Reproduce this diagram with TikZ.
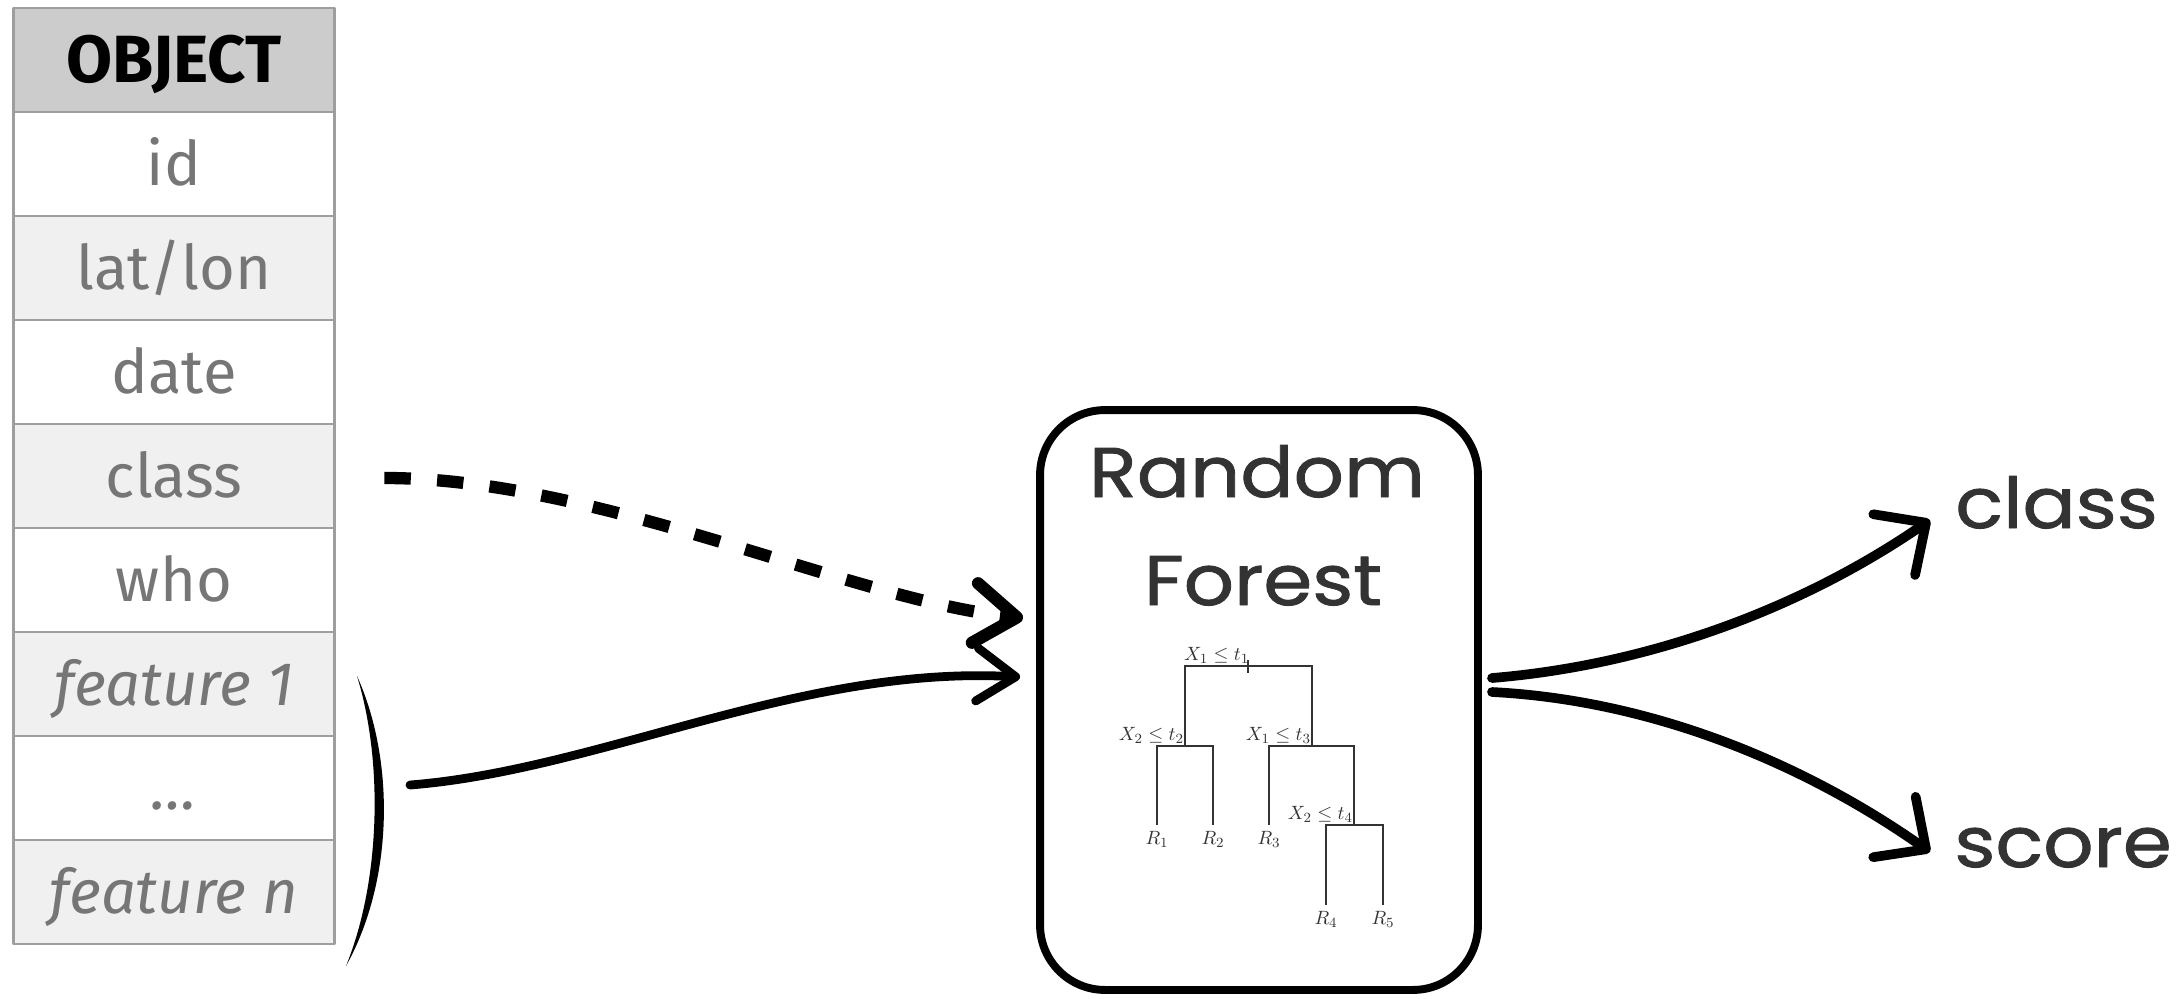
\documentclass[tikz,border=0pt]{standalone}
\usepackage{fontspec}
\usepackage{xcolor}
\usepackage{tikz}
\usetikzlibrary{arrows.meta,calc,positioning}
\newfontfamily\tablefont{Fira Sans}
\newfontfamily\handfont[FakeStretch=1.12, FakeBold=1.2]{Poppins}
\definecolor{cellLine}{HTML}{9E9E9E}
\definecolor{cellText}{HTML}{767676}
\definecolor{headFill}{HTML}{CCCCCC}
\definecolor{rowShade}{HTML}{F0F0F0}
\definecolor{inkDark}{HTML}{333333}

\begin{document}
\begin{tikzpicture}[x=0.02cm, y=-0.02cm, line cap=round, line join=round,
  cell/.style={draw=cellLine, line width=1.5pt, minimum width=6.42cm, minimum height=2.08cm,
    inner sep=0pt, outer sep=0pt, text height=24pt, text depth=0pt, text=cellText,
    font=\tablefont\fontsize{35}{40}\selectfont},
  plainrow/.style={fill=white},
  shadedrow/.style={fill=rowShade},
  featplain/.style={fill=white, font=\tablefont\itshape\fontsize{35}{40}\selectfont},
  featshaded/.style={fill=rowShade, font=\tablefont\itshape\fontsize{35}{40}\selectfont},
  hand/.style={text=inkDark, inner sep=0pt, font=\handfont\fontsize{40}{44}\selectfont},
  split/.style={anchor=south east, inner sep=1.5pt, text=inkDark, font=\fontsize{11}{13}\selectfont},
  leaf/.style={anchor=north, inner sep=1pt, text=inkDark, font=\fontsize{11}{13}\selectfont},
  branch/.style={draw=inkDark, line width=1.1pt, line cap=butt, line join=miter},
  feed/.style={line width=5pt, -{Straight Barb[round, length=22pt, width=30pt]}},
  hint/.style={line width=7pt, line cap=butt, dash pattern=on 15pt off 15pt,
    -{Straight Barb[round, length=24pt, width=34pt]}},
  result/.style={line width=5.5pt, -{Straight Barb[round, length=22pt, width=42pt]}}]

  \useasboundingbox (0,0) rectangle (2184,998);

  % record table
  \node[cell, fill=headFill, text=black, text height=26pt,
    font=\tablefont\bfseries\fontsize{38}{44}\selectfont] (head) at (174,60) {OBJECT};
  \foreach \i/\txt/\sty in {1/id/plainrow, 2/{lat/lon}/shadedrow, 3/date/plainrow,
      4/class/shadedrow, 5/who/plainrow, 6/feature 1/featshaded, 7/{\dots}/featplain,
      8/feature n/featshaded}{%
    \node[cell, \sty] (row\i) at (174,60+104*\i) {\txt};
  }

  % bracket grouping the features
  \fill[black] (357,676) .. controls (395,760) and (394,880) .. (346,966)
    .. controls (381,880) and (383,760) .. (357,676) -- cycle;
  \coordinate (featsIn) at (410,785);

  % model box
  \node[draw=black, line width=4.5pt, rounded corners=1.3cm, fill=white, outer sep=0pt,
    minimum width=8.76cm, minimum height=11.6cm] (rf) at (1259,700) {};
  \node[hand, anchor=base] (rfTop) at (1257,497) {Random};
  \node[hand, anchor=base] (rfBot) at (1263,605) {Forest};

  % decision tree sketch
  \draw[branch] (1185,746) -- (1185,666) -- (1312,666) -- (1312,746);
  \draw[branch] (1157,825) -- (1157,746) -- (1213,746) -- (1213,825);
  \draw[branch] (1269,825) -- (1269,746) -- (1354,746) -- (1354,825);
  \draw[branch] (1326,905) -- (1326,825) -- (1383,825) -- (1383,905);
  \draw[branch] (1248,660) -- (1248,673);
  \node[split, anchor=south west] (s1) at (1181,666) {$X_1 \leq t_1$};
  \node[split] (s2) at (1187,746) {$X_2 \leq t_2$};
  \node[split] (s3) at (1314,746) {$X_1 \leq t_3$};
  \node[split] (s4) at (1356,825) {$X_2 \leq t_4$};
  \foreach \x/\y/\k in {1157/829/1, 1213/829/2, 1269/829/3, 1326/909/4, 1383/909/5}
    \node[leaf] (leaf\k) at (\x,\y) {$R_\k$};

  % outputs
  \node[hand, anchor=base west] (cls) at (1955,528) {class};
  \node[hand, anchor=base west] (scr) at (1954,867) {score};

  % connectors
  \draw[hint] ($(row4.east)+(50,2)$) .. controls +(215,0) and +(-173,-18) .. ($(rf.west)+(-17,-82)$);
  \draw[feed] (featsIn) .. controls +(190,-15) and +(-220,-12) .. ($(rf.west)+(-20,-23)$);
  \draw[result] ($(rf.east)+(14,-22)$) .. controls +(158,-13) and +(-128,88) .. ($(cls.base west)+(-25,-8)$);
  \draw[result] ($(rf.east)+(14,-8)$) .. controls +(158,8) and +(-128,-90) .. ($(scr.base west)+(-24,-15)$);
\end{tikzpicture}
\end{document}
